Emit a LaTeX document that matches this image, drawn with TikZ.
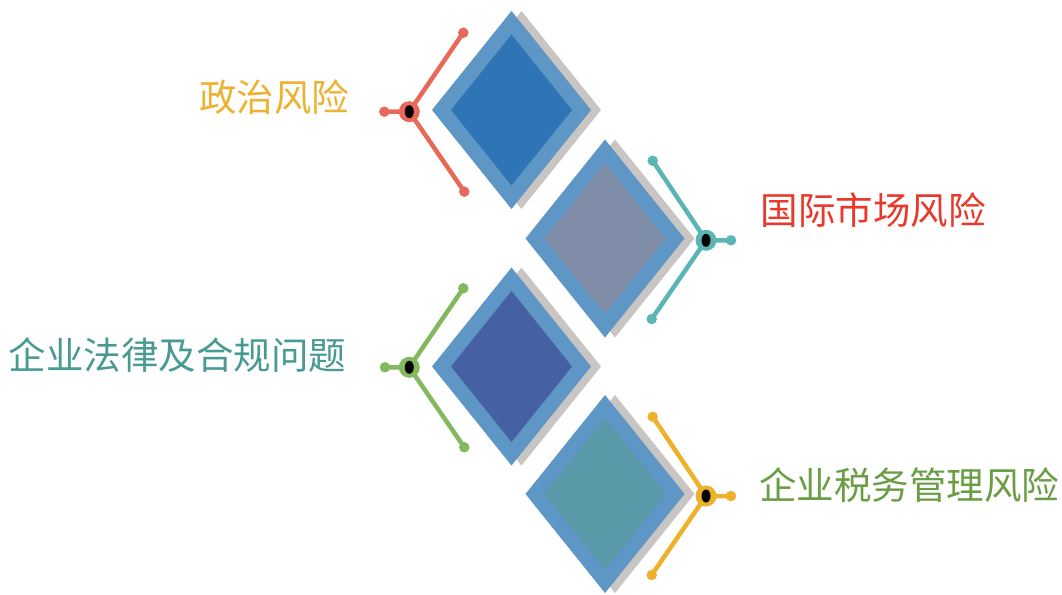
\documentclass[tikz,border=0pt]{standalone}
\usepackage{fontspec}
\setmainfont{Noto Sans CJK SC}
\usetikzlibrary{shapes.geometric}
\definecolor{outerblue}{HTML}{5E96C6}
\definecolor{shadowgray}{HTML}{C9C5C3}
\definecolor{innerA}{HTML}{2E75B6}
\definecolor{innerB}{HTML}{7F8CA8}
\definecolor{innerC}{HTML}{4561A4}
\definecolor{innerD}{HTML}{5A9AA8}
\definecolor{cRed}{HTML}{E8695A}
\definecolor{cTeal}{HTML}{5CB5B5}
\definecolor{cGreen}{HTML}{84B85C}
\definecolor{cYellow}{HTML}{EEB12C}
\definecolor{tOrange}{HTML}{EDB232}
\definecolor{tRed}{HTML}{E8392A}
\definecolor{tTeal}{HTML}{4A9A94}
\definecolor{tGreen}{HTML}{6A9E45}
\begin{document}
\begin{tikzpicture}[x=1pt,y=-1pt,
  shadowd/.style={diamond, fill=shadowgray, minimum width=159pt, minimum height=198pt, inner sep=0pt, outer sep=0pt},
  outerd/.style={diamond, fill=outerblue, minimum width=159pt, minimum height=198pt, inner sep=0pt, outer sep=0pt},
  innerd/.style={diamond, fill=#1, minimum width=121pt, minimum height=151pt, inner sep=0pt, outer sep=0pt},
  hub/.style={circle, fill=#1, minimum size=21pt, inner sep=0pt, outer sep=0pt},
  endpt/.style={circle, fill=#1, minimum size=10.5pt, inner sep=0pt, outer sep=0pt},
  core/.style={ellipse, fill=black, minimum width=9pt, minimum height=13pt, inner sep=0pt},
  arm/.style={line width=4.5pt, draw=#1},
  lbl/.style={font=\fontsize{37.5}{40}\selectfont, inner sep=0pt, text=#1}
]
\useasboundingbox (0,0) rectangle (1062,594);
\fill[white] (0,0) rectangle (1062,594);

% diamond 1
\node[shadowd] (s1) at (521.5,110) {};
\node[outerd] (o1) at (511.5,110) {};
\node[innerd=innerA] (i1) at (511.5,110) {};
% diamond 2
\node[shadowd] (s2) at (615,238.5) {};
\node[outerd] (o2) at (605,238.5) {};
\node[innerd=innerB] (i2) at (605,238.5) {};
% diamond 3
\node[shadowd] (s3) at (521.5,366.5) {};
\node[outerd] (o3) at (511.5,366.5) {};
\node[innerd=innerC] (i3) at (511.5,366.5) {};
% diamond 4
\node[shadowd] (s4) at (615,494) {};
\node[outerd] (o4) at (605,494) {};
\node[innerd=innerD] (i4) at (605,494) {};

% connector 1
\node[endpt=cRed] (a1) at (463.3,32.7) {};
\node[endpt=cRed] (b1) at (464.3,191.7) {};
\node[endpt=cRed] (c1) at (384.3,111.7) {};
\coordinate (h1) at (409.3,111.7);
\draw[arm=cRed] (h1) -- (a1.center) (h1) -- (b1.center) (h1) -- (c1.center);
\node[hub=cRed] (r1) at (h1) {};
\node[core] (k1) at (h1) {};

% connector 2
\node[endpt=cTeal] (a2) at (652.7,160.7) {};
\node[endpt=cTeal] (b2) at (651.7,319) {};
\node[endpt=cTeal] (c2) at (731,240.3) {};
\coordinate (h2) at (706,240.3);
\draw[arm=cTeal] (h2) -- (a2.center) (h2) -- (b2.center) (h2) -- (c2.center);
\node[hub=cTeal] (r2) at (h2) {};
\node[core] (k2) at (h2) {};

% connector 3
\node[endpt=cGreen] (a3) at (463.3,288.3) {};
\node[endpt=cGreen] (b3) at (464.3,447.3) {};
\node[endpt=cGreen] (c3) at (385,367.3) {};
\coordinate (h3) at (409.3,367.3);
\draw[arm=cGreen] (h3) -- (a3.center) (h3) -- (b3.center) (h3) -- (c3.center);
\node[hub=cGreen] (r3) at (h3) {};
\node[core] (k3) at (h3) {};

% connector 4
\node[endpt=cYellow] (a4) at (652.7,416.7) {};
\node[endpt=cYellow] (b4) at (651.7,575) {};
\node[endpt=cYellow] (c4) at (731,496) {};
\coordinate (h4) at (706,496);
\draw[arm=cYellow] (h4) -- (a4.center) (h4) -- (b4.center) (h4) -- (c4.center);
\node[hub=cYellow] (r4) at (h4) {};
\node[core] (k4) at (h4) {};

% labels
\node[lbl=tOrange] (t1) at (274,97) {政治风险};
\node[lbl=tRed] (t2) at (873,210.5) {国际市场风险};
\node[lbl=tTeal] (t3) at (177.5,355.5) {企业法律及合规问题};
\node[lbl=tGreen] (t4) at (909,485) {企业税务管理风险};
\end{tikzpicture}
\end{document}
